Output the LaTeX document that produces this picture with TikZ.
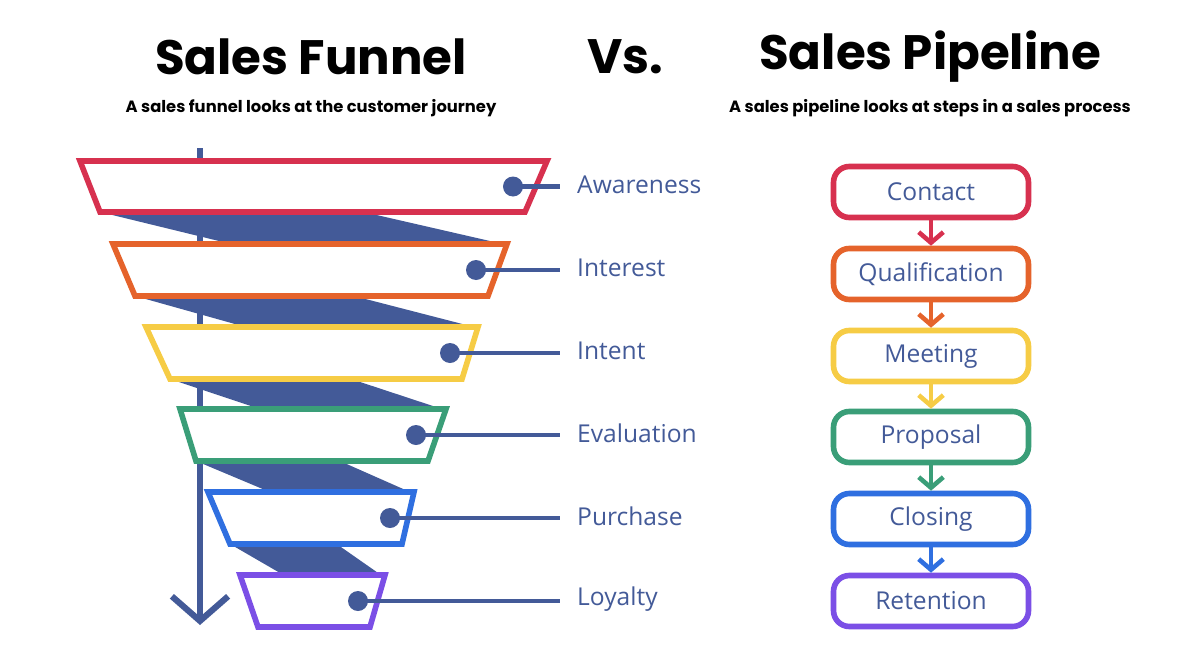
\documentclass[tikz,border=0pt]{standalone}
\usepackage{fontspec}
\setmainfont{Open Sans}
\newfontfamily\titlefont{Poppins}
\usetikzlibrary{arrows.meta}
\definecolor{cred}{HTML}{D7314F}
\definecolor{corange}{HTML}{E5632B}
\definecolor{cyellow}{HTML}{F6CC45}
\definecolor{cgreen}{HTML}{3A9E78}
\definecolor{cblue}{HTML}{2F6FE0}
\definecolor{cpurple}{HTML}{7B4FE6}
\definecolor{navy}{HTML}{435A98}
\begin{document}
\begin{tikzpicture}[x=0.02cm,y=-0.02cm,
trap/.style={line width=3.2pt, fill=white, line join=miter},
band/.style={fill=navy},
lab/.style={anchor=west, text=navy, font=\fontsize{14}{17}\selectfont},
stage/.style={draw, line width=3.2pt, rounded corners=9pt, minimum width=3.9cm, minimum height=1.02cm, text=navy, font=\fontsize{14}{17}\selectfont},
flow/.style={line width=2.6pt, -{Straight Barb[length=6pt,width=14pt,line width=2.6pt]}}
]
\useasboundingbox (0,0) rectangle (1195,652);
%% Titles
\node[font=\titlefont\bfseries\fontsize{27.5}{32}\selectfont] (t1) at (311,57) {Sales Funnel};
\node[font=\titlefont\bfseries\fontsize{27.5}{32}\selectfont] (tv) at (625,57) {Vs.};
\node[font=\titlefont\bfseries\fontsize{27.5}{32}\selectfont] (t2) at (930,57) {Sales Pipeline};
\node[font=\titlefont\bfseries\fontsize{9.3}{11}\selectfont] (s1) at (311,108) {A sales funnel looks at the customer journey};
\node[font=\titlefont\bfseries\fontsize{9.3}{11}\selectfont] (s2) at (930,108) {A sales pipeline looks at steps in a sales process};
%% Axis
\coordinate (atop) at (200,148);
\coordinate (abot) at (200,625);
\draw[navy, line width=3.5pt, -{Straight Barb[length=14pt,width=32pt,line width=3.5pt]}] (atop) -- (abot);
%% Bands
\foreach \bl/\br/\yb/\tl/\tr/\yt in {100/525/212/113/507/244, 135/488/296/146/478/327, 170/462/379/180/446/409, 196/428/461/208/414/492, 230/402/544/240/385/575}
  \fill[band] (\bl,\yb) -- ({\bl+0.62*(\br-\bl)},\yb) -- (\tr-4,\yt) -- ({\tl+0.3*(\tr-\tl)},\yt) -- cycle;
%% Funnel
\foreach \tl/\tr/\yt/\bl/\br/\yb/\col/\txt/\n in {80/547/161/100/525/212/cred/Awareness/1, 113/507/244/135/488/296/corange/Interest/2, 146/478/327/170/462/379/cyellow/Intent/3, 180/446/409/196/428/461/cgreen/Evaluation/4, 208/414/492/230/402/544/cblue/Purchase/5, 240/385/575/258/370/627/cpurple/Loyalty/6}{
  \draw[trap, draw=\col] (\tl,\yt) -- (\tr,\yt) -- (\br,\yb) -- (\bl,\yb) -- cycle;
  \coordinate (d\n) at ({\br-12},{(\yt+\yb)/2});
  \node[lab] (l\n) at (571,{(\yt+\yb)/2-2}) {\txt};
  \draw[navy, line width=2.4pt] (d\n) -- ([xshift=-6pt]l\n.west |- d\n);
  \fill[navy] (d\n) circle (10);
}
%% Pipeline
\node[stage, draw=cred] (p1) at (931,192) {Contact};
\node[stage, draw=corange] (p2) at (931,274) {Qualification};
\node[stage, draw=cyellow] (p3) at (931,356) {Meeting};
\node[stage, draw=cgreen] (p4) at (931,437) {Proposal};
\node[stage, draw=cblue] (p5) at (931,519) {Closing};
\node[stage, draw=cpurple] (p6) at (931,601) {Retention};
\draw[flow, cred] (p1) -- (p2);
\draw[flow, corange] (p2) -- (p3);
\draw[flow, cyellow] (p3) -- (p4);
\draw[flow, cgreen] (p4) -- (p5);
\draw[flow, cblue] (p5) -- (p6);
\end{tikzpicture}
\end{document}
